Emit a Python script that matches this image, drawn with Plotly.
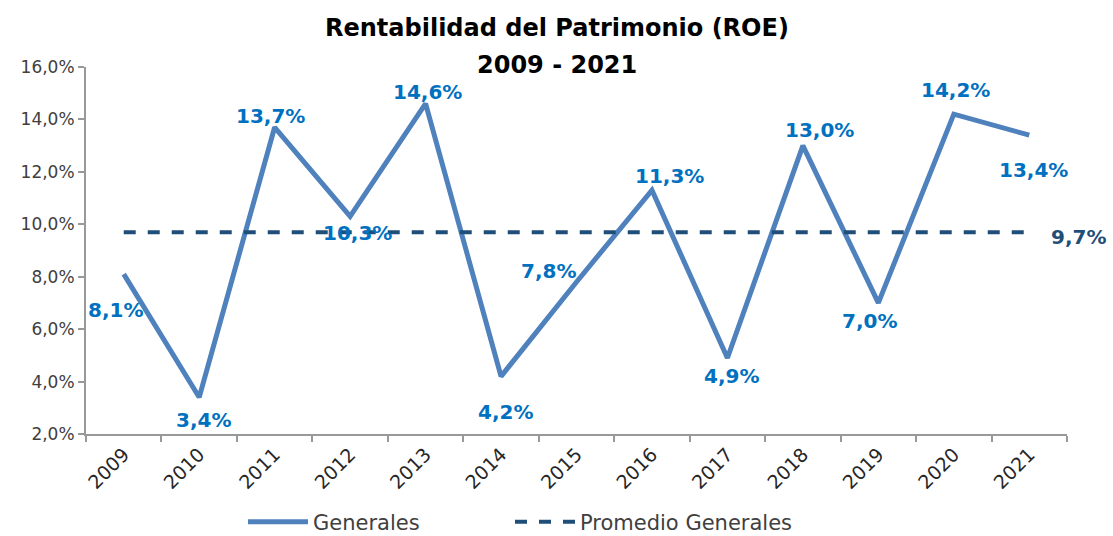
import plotly.graph_objects as go

years = ["2009", "2010", "2011", "2012", "2013", "2014", "2015", "2016", "2017", "2018", "2019", "2020", "2021"]
roe = [8.1, 3.4, 13.7, 10.3, 14.6, 4.2, 7.8, 11.3, 4.9, 13.0, 7.0, 14.2, 13.4]
promedio_value = 9.7
promedio = [promedio_value] * len(years)
y_ticks = [2, 4, 6, 8, 10, 12, 14, 16]
y_tick_labels = ["2,0%", "4,0%", "6,0%", "8,0%", "10,0%", "12,0%", "14,0%", "16,0%"]
title_lines = ["Rentabilidad del Patrimonio (ROE)", "2009 - 2021"]

# label offsets (pixels) for data labels
label_shifts = [(-8, -36), (4, -23), (-4, 11), (7, -17), (2, 12), (4, -36), (-28, 11),
                (18, 14), (4, -18), (17, 16), (-9, -18), (2, 24), (4, -35)]

FONT = "DejaVu Sans"
fig = go.Figure()
fig.add_trace(go.Scatter(x=years, y=roe, mode="lines", name="Generales", legendwidth=192,
                         line=dict(color="#4F81BD", width=5)))
fig.add_trace(go.Scatter(x=years, y=promedio, mode="lines", name="Promedio Generales",
                         line=dict(color="#1F4E79", width=4, dash="dash")))

def fmt(v):
    return f"{v:.1f}%".replace(".", ",")

for i, (v, (dx, dy)) in enumerate(zip(roe, label_shifts)):
    fig.add_annotation(x=i, y=v, xref="x", yref="y", text=fmt(v), showarrow=False,
                       xshift=dx, yshift=dy,
                       font=dict(family=FONT, size=20, color="#0070C0", weight="bold"))
fig.add_annotation(x=len(years) - 1, y=promedio_value, xref="x", yref="y",
                   text=fmt(promedio_value), showarrow=False, xshift=49, yshift=-5,
                   font=dict(family=FONT, size=20, color="#1F4E79", weight="bold"))

title_x = (556.5 - 86) / 981
for line, ys in zip(title_lines, [39, 2]):
    fig.add_annotation(x=title_x, y=1, xref="paper", yref="paper", xanchor="center", yanchor="middle",
                       yshift=ys, text=f"<b>{line}</b>", showarrow=False,
                       font=dict(family=FONT, size=24, color="black"))

fig.update_layout(
    width=1113, height=536,
    margin=dict(l=86, r=46, t=67, b=102, autoexpand=False),
    paper_bgcolor="white", plot_bgcolor="white",
    font=dict(family=FONT, color="#404040"),
    showlegend=True,
    legend=dict(orientation="h", x=(243 - 86) / 981, xanchor="left", y=-0.24, yanchor="middle",
                font=dict(family=FONT, size=21, color="#404040"), itemwidth=60),
    xaxis=dict(type="category", range=[-0.5, len(years) - 0.5], showline=True,
               linecolor="#999999", linewidth=2, automargin=False,
               ticks="outside", ticklen=6, tickcolor="#999999", tickwidth=2,
               tickson="boundaries", tickangle=-45, showgrid=False, zeroline=False,
               tickfont=dict(family=FONT, size=19, color="#262626")),
    yaxis=dict(range=[2, 16], tickvals=y_ticks, ticktext=y_tick_labels,
               showline=True, linecolor="#999999", linewidth=2, automargin=False,
               ticks="outside", ticklen=6, tickcolor="#999999", tickwidth=2,
               showgrid=False, zeroline=False,
               tickfont=dict(family=FONT, size=17, color="#404040")),
)

fig.write_html("out.html")
